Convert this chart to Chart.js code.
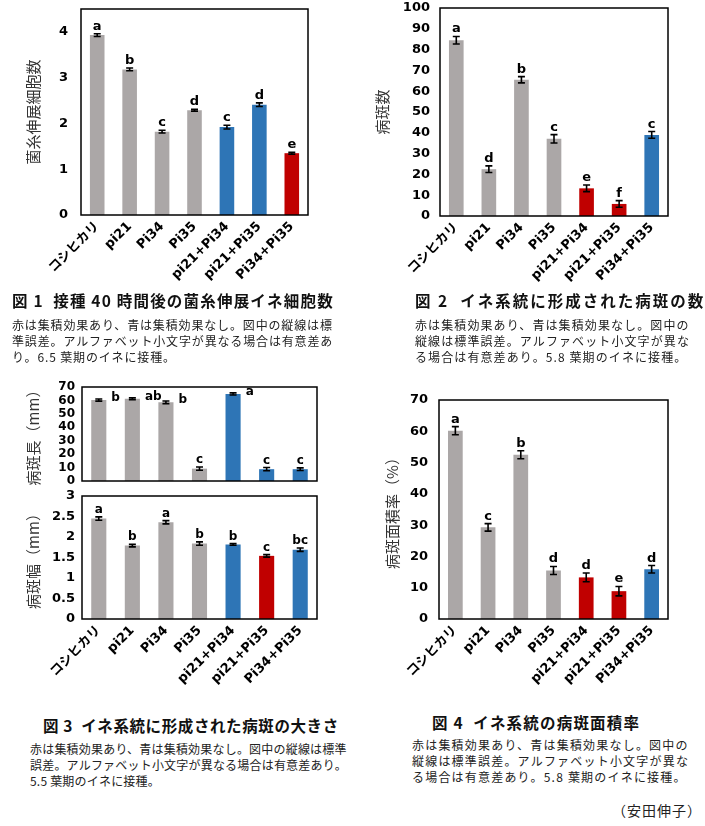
<!DOCTYPE html>
<html><head><meta charset="utf-8">
<script src="https://cdn.jsdelivr.net/npm/chart.js@4.4.1/dist/chart.umd.min.js"></script>
<style>
body{margin:0;background:#fff;width:705px;height:826px;position:relative;overflow:hidden;font-family:'Noto Sans CJK JP',sans-serif;}
.box{position:absolute;}
.ttl{position:absolute;font-weight:bold;font-size:15.5px;white-space:nowrap;color:#111;line-height:18px;}
.cap{position:absolute;font-size:12px;line-height:15.8px;white-space:nowrap;color:#222;}
</style></head><body>
<div class="box" style="left:0;top:0;width:325px;height:290px"><canvas id="c1"></canvas></div>
<div class="box" style="left:350px;top:0;width:355px;height:290px"><canvas id="c2"></canvas></div>
<div class="box" style="left:0;top:380px;width:330px;height:106px"><canvas id="c3a"></canvas></div>
<div class="box" style="left:0;top:486px;width:330px;height:214px"><canvas id="c3b"></canvas></div>
<div class="box" style="left:370px;top:385px;width:335px;height:320px"><canvas id="c4"></canvas></div>

<div class="ttl" style="left:12px;top:291px;letter-spacing:1.2px">図 1&nbsp; 接種 40 時間後の菌糸伸展イネ細胞数</div>
<div class="cap" style="left:12px;top:317px;letter-spacing:0.85px">赤は集積効果あり、青は集積効果なし。図中の縦線は標<br>準誤差。アルファベット小文字が異なる場合は有意差あ<br>り。6.5 葉期のイネに接種。</div>

<div class="ttl" style="left:415px;top:291px;letter-spacing:2px">図 2&nbsp; イネ系統に形成された病斑の数</div>
<div class="cap" style="left:415px;top:317px;letter-spacing:1.1px">赤は集積効果あり、青は集積効果なし。図中の<br>縦線は標準誤差。アルファベット小文字が異な<br>る場合は有意差あり。5.8 葉期のイネに接種。</div>

<div class="ttl" style="left:43px;top:716px;letter-spacing:0.6px">図 3&nbsp; イネ系統に形成された病斑の大きさ</div>
<div class="cap" style="left:30px;top:741px;letter-spacing:0.2px">赤は集積効果あり、青は集積効果なし。図中の縦線は標準<br>誤差。アルファベット小文字が異なる場合は有意差あり。<br>5.5 葉期のイネに接種。</div>

<div class="ttl" style="left:432px;top:713px;letter-spacing:1.2px">図 4&nbsp; イネ系統の病斑面積率</div>
<div class="cap" style="left:412px;top:737px;letter-spacing:1.2px">赤は集積効果あり、青は集積効果なし。図中の<br>縦線は標準誤差。アルファベット小文字が異な<br>る場合は有意差あり。5.8 葉期のイネに接種。</div>

<div class="cap" style="left:612px;top:803px;font-size:14px;letter-spacing:1px">（安田伸子）</div>

<script>
const categories = ['コシヒカリ','pi21','Pi34','Pi35','pi21+Pi34','pi21+Pi35','Pi34+Pi35'];

// 図1 菌糸伸展イネ細胞数
const fig1Values = [3.93, 3.18, 1.82, 2.29, 1.92, 2.41, 1.35];
const fig1Errors = [0.03, 0.03, 0.03, 0.02, 0.04, 0.04, 0.02];
const fig1Letters = ['a','b','c','d','c','d','e'];
const fig1Groups = ['base','base','base','base','none','none','effect'];
const fig1Ticks = [0, 1, 2, 3, 4];

// 図2 病斑数
const fig2Values = [84.5, 22.5, 65.5, 37.1, 13.3, 5.8, 39.0];
const fig2Errors = [1.8, 1.6, 1.5, 2.0, 1.6, 1.6, 1.6];
const fig2Letters = ['a','d','b','c','e','f','c'];
const fig2Groups = ['base','base','base','base','effect','effect','none'];
const fig2Ticks = [0, 10, 20, 30, 40, 50, 60, 70, 80, 90, 100];

// 図3 病斑長 (mm)
const fig3LenValues = [60.3, 61.2, 58.6, 9.2, 64.8, 8.8, 8.8];
const fig3LenErrors = [0.8, 0.7, 1.0, 1.2, 0.8, 1.2, 1.0];
const fig3LenLetters = ['b','ab','b','c','a','c','c'];
const fig3LenGroups = ['base','base','base','base','none','none','none'];
const fig3LenTicks = [0, 10, 20, 30, 40, 50, 60, 70];

// 図3 病斑幅 (mm)
const fig3WidValues = [2.45, 1.79, 2.36, 1.84, 1.82, 1.54, 1.69];
const fig3WidErrors = [0.04, 0.03, 0.04, 0.04, 0.02, 0.03, 0.04];
const fig3WidLetters = ['a','b','a','b','b','c','bc'];
const fig3WidGroups = ['base','base','base','base','none','effect','none'];
const fig3WidTicks = [0, 0.5, 1, 1.5, 2, 2.5, 3];

// 図4 病斑面積率 (%)
const fig4Values = [60.2, 29.3, 52.5, 15.5, 13.3, 8.9, 15.9];
const fig4Errors = [1.3, 1.2, 1.3, 1.3, 1.4, 1.5, 1.2];
const fig4Letters = ['a','c','b','d','d','e','d'];
const fig4Groups = ['base','base','base','base','effect','effect','none'];
const fig4Ticks = [0, 10, 20, 30, 40, 50, 60, 70];

const colorMap = {base:'#aba7a7', none:'#2e75b6', effect:'#c00000'};
const LATIN = "'DejaVu Sans', 'Noto Sans CJK JP', sans-serif";

const deco = {
  id:'deco',
  afterDatasetsDraw(chart, args, opts){
    const {ctx, chartArea:a} = chart;
    const y = chart.scales.y;
    const meta = chart.getDatasetMeta(0);
    const vals = chart.data.datasets[0].data;
    ctx.save();
    ctx.strokeStyle = '#000'; ctx.lineWidth = 1.6;
    opts.errors.forEach((e,i)=>{
      const px = meta.data[i].x;
      const yt = y.getPixelForValue(vals[i]+e), yb = y.getPixelForValue(vals[i]-e);
      ctx.beginPath();
      ctx.moveTo(px,yt); ctx.lineTo(px,yb);
      ctx.moveTo(px-3.5,yt); ctx.lineTo(px+3.5,yt);
      ctx.moveTo(px-3.5,yb); ctx.lineTo(px+3.5,yb);
      ctx.stroke();
    });
    ctx.fillStyle = '#000';
    ctx.font = opts.letterFont;
    opts.letters.forEach((L,i)=>{
      const bar = meta.data[i];
      if (opts.sides && opts.sides[i] === 'right'){
        ctx.textAlign = 'left'; ctx.textBaseline = 'middle';
        ctx.fillText(L, bar.x + bar.width/2 + 5, y.getPixelForValue(vals[i]) - 2);
      } else {
        ctx.textAlign = 'center'; ctx.textBaseline = 'alphabetic';
        ctx.fillText(L, bar.x, y.getPixelForValue(vals[i] + opts.errors[i]) - 4);
      }
    });
    ctx.strokeStyle = '#000'; ctx.lineWidth = 1.5;
    ctx.strokeRect(a.left, a.top, a.right - a.left, a.bottom - a.top);
    ctx.restore();
  }
};

function makeChart(id, c){
  return new Chart(document.getElementById(id), {
    type:'bar',
    data:{labels:categories, datasets:[{data:c.values, backgroundColor:c.groups.map(g=>colorMap[g]), barPercentage:0.45, categoryPercentage:1}]},
    plugins:[deco],
    options:{
      animation:false, responsive:true, maintainAspectRatio:false,
      layout:{padding:{left:0, top:c.padTop, right:c.padRight, bottom:c.padBottom || 0}},
      plugins:{legend:{display:false}, tooltip:{enabled:false},
        deco:{errors:c.errors, letters:c.letters, sides:c.sides, letterFont:c.letterFont || ("bold 13px " + LATIN)}},
      scales:{
        x:{display:c.showX !== false, grid:{display:false, drawTicks:false}, border:{display:false},
           ticks:{minRotation:45, maxRotation:45, autoSkip:false, color:'#000', padding:c.xPad || 4,
                  font:{family:LATIN, weight:'bold', size:13}},
           afterFit(s){ s.height = c.xHeight || 0; s.paddingLeft = 0; s.paddingRight = 0; }},
        y:{min:c.min, max:c.max, grid:{display:false, drawTicks:false}, border:{display:false},
           ticks:{color:'#000', padding:c.yPad, autoSkip:false, callback:(v)=>String(v),
                  font:{family:LATIN, weight:'bold', size:c.tickSize || 13}},
           title:{display:true, text:c.title, color:'#333', font:{family:"'Noto Sans CJK JP', sans-serif", size:15}, padding:{top:c.titlePad, bottom:0}},
           afterBuildTicks(s){ s.ticks = c.ticks.map(v=>({value:v})); },
           afterFit(s){ s.width = c.yWidth; s.paddingTop = 0; s.paddingBottom = 0; }}
      }
    }
  });
}

makeChart('c1', {values:fig1Values, errors:fig1Errors, letters:fig1Letters, groups:fig1Groups, ticks:fig1Ticks,
  min:0, max:4.5, title:'菌糸伸展細胞数', titlePad:24, yWidth:81, yPad:13, padTop:9, padRight:17, xHeight:75});
makeChart('c2', {values:fig2Values, errors:fig2Errors, letters:fig2Letters, groups:fig2Groups, ticks:fig2Ticks,
  min:0, max:100, title:'病斑数', titlePad:23, yWidth:90, yPad:10, padTop:8, padRight:37, xHeight:74});
makeChart('c3a', {values:fig3LenValues, errors:fig3LenErrors, letters:fig3LenLetters, groups:fig3LenGroups, ticks:fig3LenTicks,
  sides:['right','right','right','top','right','top','top'], letterFont:"bold 12px " + LATIN, tickSize:12,
  min:0, max:70, title:'病斑長（mm）', titlePad:24, yWidth:82, yPad:7, padTop:7, padRight:13, showX:false, padBottom:5});
makeChart('c3b', {values:fig3WidValues, errors:fig3WidErrors, letters:fig3WidLetters, groups:fig3WidGroups, ticks:fig3WidTicks,
  letterFont:"bold 12px " + LATIN,
  min:0, max:3, title:'病斑幅（mm）', titlePad:24, yWidth:82, yPad:7, padTop:10, padRight:13, xHeight:81});
makeChart('c4', {values:fig4Values, errors:fig4Errors, letters:fig4Letters, groups:fig4Groups, ticks:fig4Ticks,
  min:0, max:70, title:'病斑面積率（%）', titlePad:13, yWidth:69, yPad:11, padTop:15, padRight:37, xHeight:86});
</script>
</body></html>
